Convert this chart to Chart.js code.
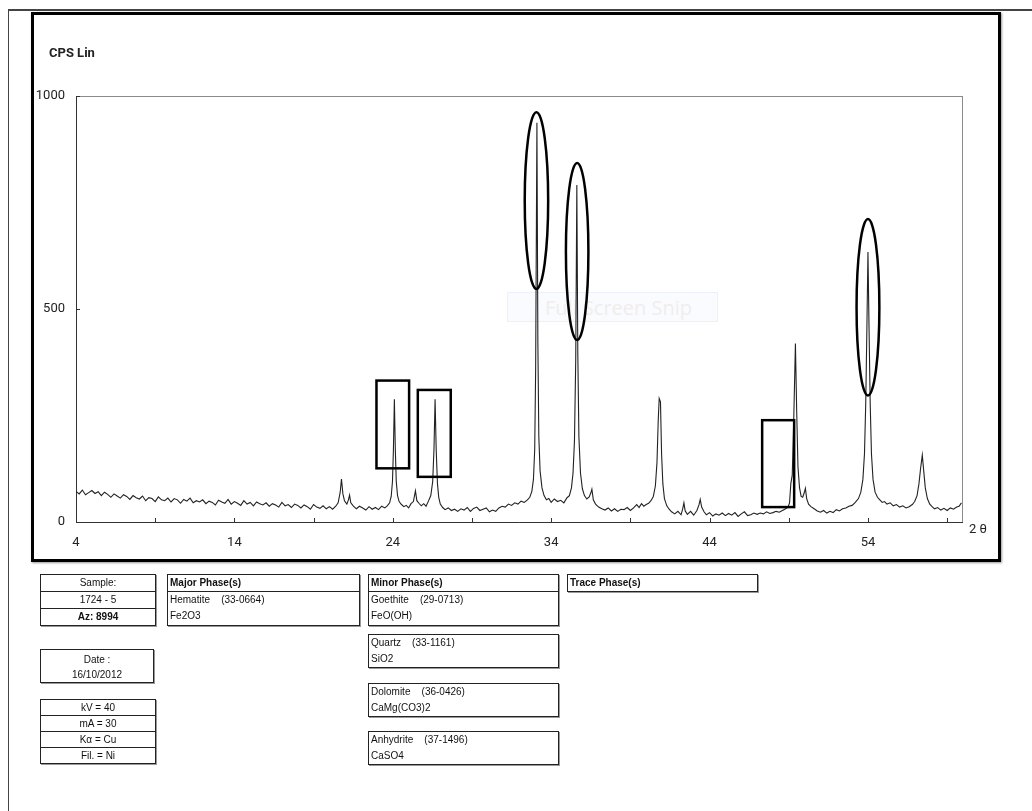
<!DOCTYPE html>
<html>
<head>
<meta charset="utf-8">
<script src="https://cdn.jsdelivr.net/npm/chart.js@4.4.1/dist/chart.umd.min.js"></script>
<style>
  body { margin: 0; background: #fff; width: 1032px; height: 811px; overflow: hidden; position: relative;
         font-family: 'Liberation Sans', Arial, sans-serif; color: #111; }
  .abs { position: absolute; }
  #outer { left: 8px; top: 9px; width: 1040px; height: 820px; border-left: 1px solid #444; border-top: 2px solid #444; }
  #frame { left: 31px; top: 12px; width: 964px; height: 544px; border: 3px solid #000; box-shadow: 1px 1px 2px #999; }
  #snip { left: 507px; top: 292px; width: 211px; height: 30px; background: rgba(238,243,252,0.35);
          border: 1px solid rgba(225,233,247,0.6); font: 20px 'Open Sans', sans-serif; color: #f1eded;
          line-height: 30px; padding-left: 37px; box-sizing: border-box; }
  #wrap { left: 0; top: 0; width: 1032px; height: 580px; }
  .lbl { font-family: Roboto, sans-serif; font-size: 13px; color: #222; }
  .box { position: absolute; border: 1px solid #222; box-shadow: 1px 1px 0 #999; font-size: 10px; background: #fff; }
  .row { height: 16px; line-height: 16px; border-bottom: 1px solid #222; padding-left: 2px; white-space: pre; }
  .row:last-child { border-bottom: none; }
  .c { text-align: center; padding-left: 0; }
  .b { font-weight: bold; }
  .ln { height: 16px; line-height: 16px; padding-left: 2px; white-space: pre; }
</style>
</head>
<body>
<div id="outer" class="abs"></div>
<div id="frame" class="abs"></div>
<div id="snip" class="abs">Full Screen Snip</div>
<div id="wrap" class="abs"><canvas id="xrd" width="1032" height="580"></canvas></div>
<div class="abs lbl" style="left:49px;top:45px;font-weight:bold;font-size:13px;">CPS Lin</div>
<div class="abs lbl" style="left:969px;top:521px;">2 θ</div>

<div class="box" style="left:40px;top:574px;width:114px;">
  <div class="row c">Sample:</div>
  <div class="row c">1724 - 5</div>
  <div class="row c b">Az: 8994</div>
</div>
<div class="box" style="left:40px;top:649px;width:114px;height:34px;text-align:center;line-height:15px;padding-top:2px;box-sizing:border-box;">
  Date :<br>16/10/2012
</div>
<div class="box" style="left:40px;top:699px;width:114px;">
  <div class="row c" style="height:15px;line-height:15px;">kV = 40</div>
  <div class="row c" style="height:15px;line-height:15px;">mA = 30</div>
  <div class="row c" style="height:15px;line-height:15px;">Kα = Cu</div>
  <div class="row c" style="height:15px;line-height:15px;">Fil. = Ni</div>
</div>

<div class="box" style="left:167px;top:574px;width:191px;">
  <div class="row b">Major Phase(s)</div>
  <div class="row" style="height:33px;border:none;"><div class="ln" style="padding:0">Hematite    (33-0664)</div><div class="ln" style="padding:0">Fe2O3</div></div>
</div>

<div class="box" style="left:368px;top:574px;width:189px;">
  <div class="row b">Minor Phase(s)</div>
  <div class="row" style="height:33px;border:none;"><div class="ln" style="padding:0">Goethite    (29-0713)</div><div class="ln" style="padding:0">FeO(OH)</div></div>
</div>
<div class="box" style="left:368px;top:634px;width:189px;height:32px;">
  <div class="ln">Quartz    (33-1161)</div><div class="ln">SiO2</div>
</div>
<div class="box" style="left:368px;top:683px;width:189px;height:32px;">
  <div class="ln">Dolomite    (36-0426)</div><div class="ln">CaMg(CO3)2</div>
</div>
<div class="box" style="left:368px;top:731px;width:189px;height:32px;">
  <div class="ln">Anhydrite    (37-1496)</div><div class="ln">CaSO4</div>
</div>
<div class="box" style="left:567px;top:574px;width:189px;">
  <div class="row b">Trace Phase(s)</div>
</div>

<script>
// 2-theta positions (deg) and intensities (CPS)
const twoTheta = [
  4.0,4.2,4.4,4.6,4.8,5.0,5.2,5.4,5.6,5.8,
  6.0,6.2,6.4,6.6,6.8,7.0,7.2,7.4,7.6,7.8,
  8.0,8.2,8.4,8.6,8.8,9.0,9.2,9.4,9.6,9.8,
  10.0,10.2,10.4,10.6,10.8,11.0,11.2,11.4,11.6,11.8,
  12.0,12.2,12.4,12.6,12.8,13.0,13.2,13.4,13.6,13.8,
  14.0,14.2,14.4,14.6,14.8,15.0,15.2,15.4,15.6,15.8,
  16.0,16.2,16.4,16.6,16.8,17.0,17.2,17.4,17.6,17.8,
  18.0,18.2,18.4,18.6,18.8,19.0,19.2,19.4,19.6,19.8,
  20.0,20.2,20.4,20.55,20.68,20.76,20.85,20.95,21.1,21.2,
  21.27,21.35,21.5,21.7,21.9,22.1,22.3,22.5,22.7,22.9,
  23.1,23.3,23.5,23.65,23.8,23.9,23.98,24.04,24.1,24.16,
  24.22,24.3,24.4,24.55,24.7,24.85,25.0,25.15,25.3,25.43,
  25.52,25.65,25.8,25.95,26.1,26.25,26.4,26.52,26.6,26.67,
  26.74,26.82,26.9,27.0,27.15,27.3,27.5,27.7,27.9,28.1,
  28.3,28.5,28.7,28.9,29.1,29.3,29.5,29.7,29.9,30.1,
  30.3,30.5,30.7,30.9,31.1,31.3,31.5,31.7,31.9,32.1,
  32.3,32.5,32.65,32.78,32.88,32.96,33.02,33.1,33.16,33.22,
  33.3,33.42,33.55,33.7,33.85,34.0,34.2,34.4,34.6,34.8,
  35.0,35.15,35.28,35.38,35.47,35.55,35.62,35.68,35.75,35.85,
  35.97,36.1,36.25,36.4,36.5,36.57,36.66,36.8,37.0,37.2,
  37.4,37.6,37.8,38.0,38.2,38.4,38.6,38.8,39.0,39.2,
  39.4,39.55,39.7,39.85,40.0,40.15,40.3,40.45,40.58,40.68,
  40.76,40.82,40.9,40.97,41.05,41.15,41.3,41.45,41.6,41.8,
  42.0,42.2,42.3,42.38,42.46,42.6,42.8,43.0,43.2,43.33,
  43.41,43.5,43.65,43.8,44.0,44.2,44.4,44.6,44.8,45.0,
  45.2,45.4,45.6,45.8,46.0,46.2,46.4,46.6,46.8,47.0,
  47.2,47.4,47.6,47.8,48.0,48.2,48.4,48.6,48.8,48.95,
  49.05,49.13,49.22,49.32,49.42,49.5,49.58,49.68,49.78,49.88,
  49.97,50.05,50.13,50.25,50.4,50.6,50.8,51.0,51.2,51.4,
  51.6,51.8,52.0,52.2,52.4,52.6,52.8,53.0,53.2,53.4,
  53.55,53.68,53.78,53.86,53.93,54.0,54.07,54.14,54.22,54.32,
  54.45,54.6,54.75,54.9,55.05,55.2,55.4,55.6,55.8,56.0,
  56.2,56.4,56.6,56.8,56.95,57.1,57.22,57.32,57.43,57.52,
  57.62,57.75,57.9,58.05,58.2,58.4,58.6,58.8,59.0,59.2,
  59.4,59.6,59.75,59.9
];
const cps = [
  72,66,75,64,69,74,67,71,62,70,
  65,58,66,61,56,64,60,53,62,57,
  54,61,50,57,55,48,59,52,50,56,
  47,55,52,44,53,49,56,45,50,47,
  52,43,49,46,40,51,47,44,53,42,
  48,44,39,50,42,46,38,47,43,40,
  45,37,43,40,35,46,38,41,34,42,
  39,33,40,36,30,41,35,32,38,31,
  36,30,37,45,70,101,66,50,42,52,
  63,45,38,31,37,33,28,36,30,34,
  29,37,33,38,45,60,95,170,288,170,
  95,62,48,41,36,39,33,43,48,73,
  50,44,38,43,37,49,62,95,170,288,
  170,90,58,42,34,29,33,27,30,25,
  31,28,34,25,32,35,27,30,33,24,
  28,25,33,37,35,42,39,45,42,49,
  46,52,58,72,100,170,360,937,420,200,
  120,80,62,52,55,46,54,48,51,45,
  57,62,80,115,190,380,791,400,200,115,
  78,62,54,59,68,77,52,42,35,31,
  28,33,26,31,25,30,29,34,27,33,
  41,34,43,37,41,44,50,60,85,140,
  240,290,282,160,90,55,38,30,24,19,
  25,17,30,45,26,18,25,16,27,40,
  53,35,24,17,22,14,19,16,21,15,
  20,16,22,13,19,24,15,17,21,18,
  21,19,24,20,22,25,23,27,31,35,
  45,90,110,250,419,260,130,80,60,58,
  68,79,55,42,36,31,26,23,27,21,
  25,22,29,26,31,33,37,39,46,55,
  70,100,160,280,450,634,450,280,160,100,
  70,58,52,46,48,42,45,38,41,35,
  38,33,36,41,48,62,90,125,157,120,
  80,55,42,36,31,34,28,32,27,33,
  30,35,37,45
];
const xTicks = [4, 9, 14, 19, 24, 29, 34, 39, 44, 49, 54, 59];
const xLabels = [4, 14, 24, 34, 44, 54];
const yTicks = [0, 500, 1000];

// hand-drawn callouts, in data units
const ovals = [
  { x: 33.07, rx: 0.74, top: 962, bottom: 547 },
  { x: 35.64, rx: 0.71, top: 843, bottom: 427 },
  { x: 54.0,  rx: 0.72, top: 711, bottom: 297 }
];
const boxes = [
  { x0: 22.97, x1: 25.03, y0: 126, y1: 332 },
  { x0: 25.58, x1: 27.66, y0: 106, y1: 310 },
  { x0: 47.32, x1: 49.34, y0: 35,  y1: 239 }
];

const n = Math.min(twoTheta.length, cps.length);
const points = [];
for (let i = 0; i < n; i++) points.push({ x: twoTheta[i], y: cps[i] });

const decor = {
  id: 'decor',
  beforeDatasetsDraw(chart) {
    const { ctx, chartArea: a, scales: { x, y } } = chart;
    ctx.save();
    ctx.lineWidth = 1;
    ctx.strokeStyle = '#8a8a8a';
    ctx.strokeRect(a.left + 0.5, a.top + 0.5, a.width - 1, a.height);
    ctx.strokeStyle = '#333';
    ctx.beginPath();
    ctx.moveTo(a.left, a.bottom + 0.5);
    ctx.lineTo(a.right, a.bottom + 0.5);
    ctx.moveTo(a.left + 0.5, a.top);
    ctx.lineTo(a.left + 0.5, a.bottom);
    x.ticks.forEach(t => {
      const px = Math.round(x.getPixelForValue(t.value)) + 0.5;
      ctx.moveTo(px, a.bottom);
      ctx.lineTo(px, a.bottom - 4);
    });
    y.ticks.forEach(t => {
      const py = Math.round(y.getPixelForValue(t.value)) + 0.5;
      ctx.moveTo(a.left, py);
      ctx.lineTo(a.left + 4, py);
    });
    ctx.stroke();
    ctx.restore();
  },
  afterDatasetsDraw(chart) {
    const { ctx, scales: { x, y } } = chart;
    ctx.save();
    ctx.strokeStyle = '#000';
    ctx.lineWidth = 2.5;
    ovals.forEach(o => {
      const cx = x.getPixelForValue(o.x);
      const rx = x.getPixelForValue(o.x + o.rx) - cx;
      const yt = y.getPixelForValue(o.top), yb = y.getPixelForValue(o.bottom);
      ctx.beginPath();
      ctx.ellipse(cx, (yt + yb) / 2, rx, (yb - yt) / 2, 0, 0, Math.PI * 2);
      ctx.stroke();
    });
    boxes.forEach(b => {
      const l = x.getPixelForValue(b.x0), r = x.getPixelForValue(b.x1);
      const t = y.getPixelForValue(b.y1), btm = y.getPixelForValue(b.y0);
      ctx.strokeRect(l, t, r - l, btm - t);
    });
    ctx.restore();
  }
};

Chart.defaults.font.family = "Roboto, sans-serif";
Chart.defaults.font.size = 13;
Chart.defaults.color = '#222';

new Chart(document.getElementById('xrd'), {
  type: 'line',
  data: {
    datasets: [{
      data: points,
      borderColor: '#222',
      borderWidth: 1.1,
      pointRadius: 0,
      tension: 0,
      fill: false
    }]
  },
  options: {
    responsive: false,
    animation: false,
    parsing: false,
    layout: { padding: { left: 0, top: 96, right: 69, bottom: 28 } },
    plugins: { legend: { display: false }, tooltip: { enabled: false } },
    scales: {
      x: {
        type: 'linear', min: 4, max: 60,
        grid: { display: false, drawTicks: false },
        border: { display: false },
        afterBuildTicks: s => { s.ticks = xTicks.map(v => ({ value: v })); },
        afterFit: s => { s.height = 30; },
        ticks: {
          padding: 13, autoSkip: false, maxRotation: 0,
          callback: v => xLabels.includes(v) ? String(v) : ''
        }
      },
      y: {
        min: 0, max: 1000,
        grid: { display: false, drawTicks: false },
        border: { display: false },
        afterBuildTicks: s => { s.ticks = yTicks.map(v => ({ value: v })); },
        afterFit: s => { s.width = 76; },
        ticks: { padding: 11, callback: v => String(v) }
      }
    }
  },
  plugins: [decor]
});
</script>
</body>
</html>
